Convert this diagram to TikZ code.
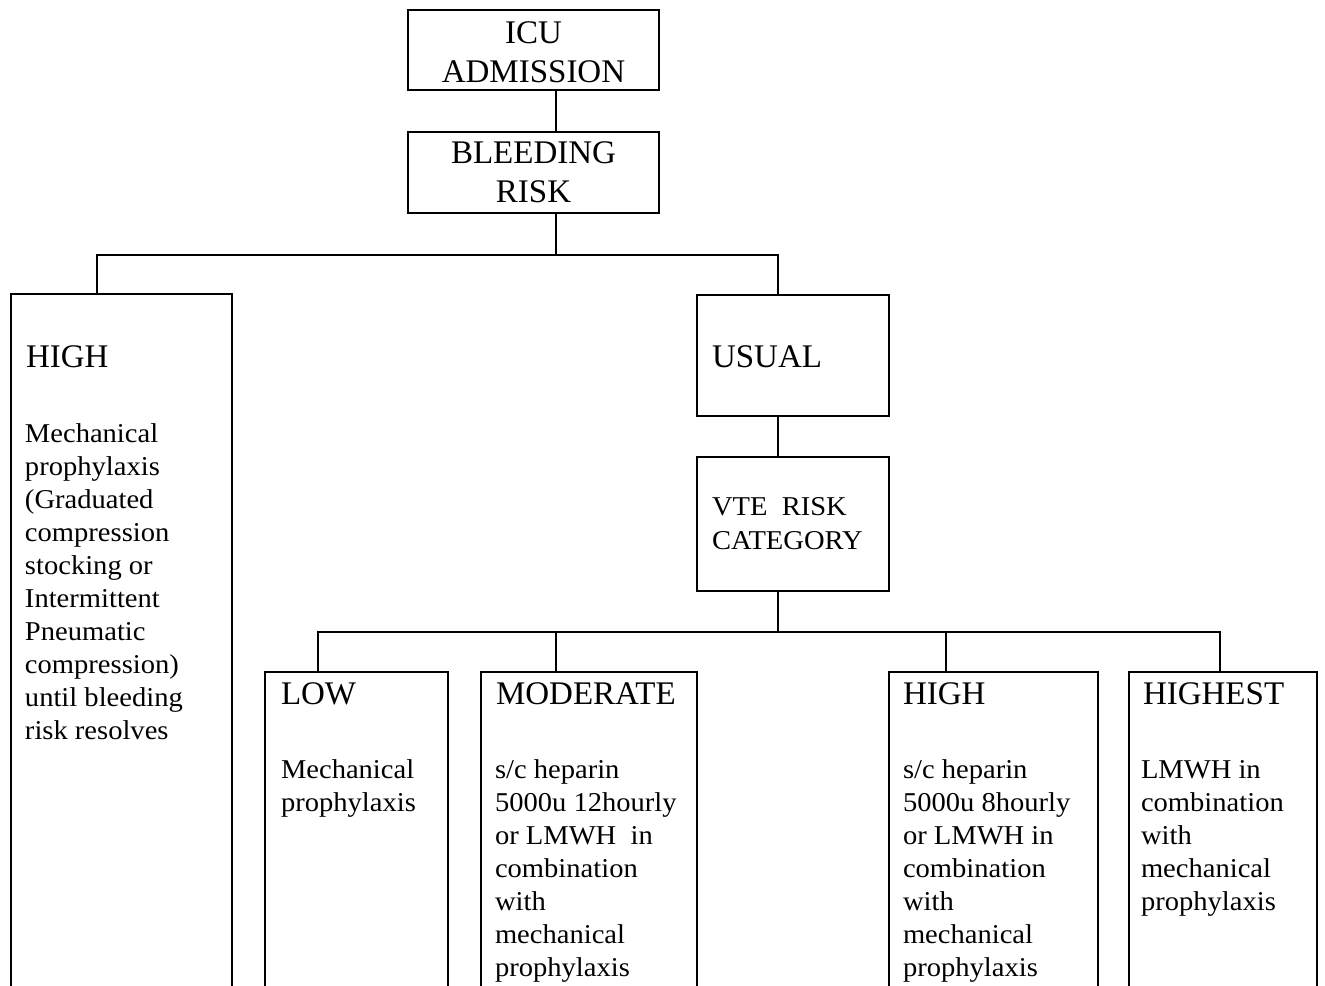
\documentclass[tikz,border=0pt]{standalone}
\usepackage{fontspec}
\setmainfont{Liberation Serif}
\newfontfamily\bodyfont{Liberation Serif}[FakeStretch=1.05]
\newcommand{\leftlines}[1]{\begin{tabular}[t]{@{}l@{}}#1\end{tabular}}
\newcommand{\centerlines}[1]{\begin{tabular}[t]{@{}c@{}}#1\end{tabular}}
\begin{document}
\begin{tikzpicture}[x=0.5pt,y=-0.5pt,
  box/.style={draw, line width=1pt, inner sep=0pt, outer sep=0pt},
  link/.style={line width=1pt},
  head/.style={inner sep=0pt, outer sep=0pt, font=\fontsize{16.5}{19.5}\selectfont},
  body/.style={inner sep=0pt, outer sep=0pt, font=\bodyfont\fontsize{13.6}{16.55}\selectfont}]
\useasboundingbox (0,0) rectangle (1325,985);
\fill[white] (0,0) rectangle (1325,985);
\clip (0,0) rectangle (1325,985);
% boxes
\node[box, minimum width=125.5pt, minimum height=40pt] (icu) at (533.5,50) {};
\node[box, minimum width=125.5pt, minimum height=40.5pt] (bleed) at (533.5,172.5) {};
\node[box, minimum width=110.5pt, minimum height=353pt] (highL) at (121.5,647) {};
\node[box, minimum width=96pt, minimum height=60.5pt] (usual) at (793,355.5) {};
\node[box, minimum width=96pt, minimum height=67pt] (vte) at (793,524) {};
\node[box, minimum width=91.5pt, minimum height=164pt] (low) at (356.5,836) {};
\node[box, minimum width=108pt, minimum height=164pt] (mod) at (589,836) {};
\node[box, minimum width=104.5pt, minimum height=164pt] (highB) at (993.5,836) {};
\node[box, minimum width=94pt, minimum height=164pt] (highest) at (1223,836) {};
% junctions
\coordinate (a) at (556,255);
\coordinate (aL) at (97,255);
\coordinate (aR) at (777.5,255);
\coordinate (b) at (777.5,632);
\coordinate (b1) at (318,632);
\coordinate (b2) at (556,632);
\coordinate (b3) at (946,632);
\coordinate (b4) at (1220,632);
% connectors
\draw[link] (icu.south -| a) -- (bleed.north -| a);
\draw[link] (bleed.south -| a) -- (a);
\draw[link] (highL.north -| aL) -- (aL) -- (aR) -- (usual.north -| aR);
\draw[link] (usual.south -| aR) -- (vte.north -| aR);
\draw[link] (vte.south -| b) -- (b);
\draw[link] (low.north -| b1) -- (b1) -- (b4) -- (highest.north -| b4);
\draw[link] (b2) -- (mod.north -| b2);
\draw[link] (b3) -- (highB.north -| b3);
% texts
\node[head, anchor=base] (tIcu) at (533.5,43) {\centerlines{ICU\\ADMISSION}};
\node[head, anchor=base] (tBleed) at (533.5,163) {\centerlines{BLEEDING\\RISK}};
\node[head, anchor=base west] (tHighL) at (26,367.5) {HIGH};
\node[body, anchor=base west] (xHighL) at (25,442) {\leftlines{Mechanical\\prophylaxis\\(Graduated\\compression\\stocking or\\Intermittent\\Pneumatic\\compression)\\until bleeding\\risk resolves}};
\node[head, anchor=base west] (tUsual) at (712,367) {USUAL};
\node[body, font=\bodyfont\fontsize{13.6}{17}\selectfont, anchor=base west] (tVte) at (712,515) {\leftlines{VTE\ \ RISK\\CATEGORY}};
\node[head, anchor=base west] (tLow) at (281,704) {LOW};
\node[head, anchor=base west] (tMod) at (496,704) {MODERATE};
\node[head, anchor=base west] (tHighB) at (903,704) {HIGH};
\node[head, anchor=base west] (tHighest) at (1143,704) {HIGHEST};
\node[body, anchor=base west] (xLow) at (281,778) {\leftlines{Mechanical\\prophylaxis}};
\node[body, anchor=base west] (xMod) at (495,778) {\leftlines{s/c heparin\\5000u 12hourly\\or LMWH\ \ in\\combination\\with\\mechanical\\prophylaxis}};
\node[body, anchor=base west] (xHighB) at (903,778) {\leftlines{s/c heparin\\5000u 8hourly\\or LMWH in\\combination\\with\\mechanical\\prophylaxis}};
\node[body, anchor=base west] (xHighest) at (1141,778) {\leftlines{LMWH in\\combination\\with\\mechanical\\prophylaxis}};
\end{tikzpicture}
\end{document}
